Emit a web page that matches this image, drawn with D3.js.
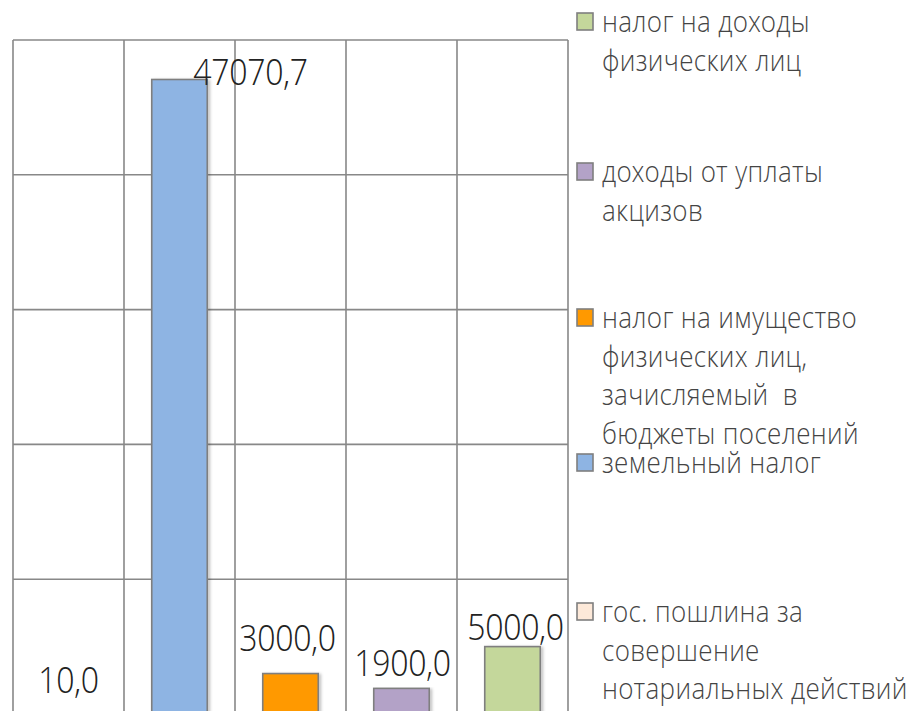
<!DOCTYPE html>
<html>
<head>
<meta charset="utf-8">
<script src="https://cdn.jsdelivr.net/npm/d3@7"></script>
<style>
  html, body { margin: 0; padding: 0; background: #fff; }
  svg { display: block; }
</style>
</head>
<body>
<svg id="chart" width="910" height="711"></svg>
<script>
// ---- data ----
const categories = [
  "гос. пошлина за совершение нотариальных действий",
  "земельный налог",
  "налог на имущество физических лиц, зачисляемый  в бюджеты поселений",
  "доходы от уплаты акцизов",
  "налог на доходы физических лиц"
];
const values = [10.0, 47070.7, 3000.0, 1900.0, 5000.0];
const valueLabels = ["10,0", "47070,7", "3000,0", "1900,0", "5000,0"];
const colors = ["#FDE9D9", "#8EB4E3", "#FF9900", "#B3A2C7", "#C4D79B"];
const yTicks = [0, 10000, 20000, 30000, 40000, 50000];
// legend (reverse order, wrapped lines as in original)
const legendLines = [
  ["налог на доходы", "физических лиц"],
  ["доходы от уплаты", "акцизов"],
  ["налог на имущество", "физических лиц,", "зачисляемый  в", "бюджеты поселений"],
  ["земельный налог"],
  ["гос. пошлина за", "совершение", "нотариальных действий"]
];
const legendColorIdx = [4, 3, 2, 1, 0];

// ---- layout ----
const svg = d3.select("#chart");
const plot = { left: 13, right: 568, top: 40, bottom: 714 };

const x = d3.scaleBand().domain(categories).range([plot.left, plot.right]).paddingInner(0).paddingOuter(0);
const y = d3.scaleLinear().domain([0, 50000]).range([plot.bottom, plot.top]);

// gridlines horizontal
svg.append("g").selectAll("line.h").data(yTicks).join("line")
  .attr("x1", plot.left).attr("x2", plot.right)
  .attr("y1", d => y(d)).attr("y2", d => y(d))
  .attr("stroke", "#888").attr("stroke-width", 1.6);

// gridlines vertical (band boundaries)
const vb = categories.map(c => x(c)).concat([plot.right]);
svg.append("g").selectAll("line.v").data(vb).join("line")
  .attr("x1", d => d).attr("x2", d => d)
  .attr("y1", plot.top).attr("y2", plot.bottom)
  .attr("stroke", "#888").attr("stroke-width", 1.6);

// shadow filter
const defs = svg.append("defs");
const f = defs.append("filter").attr("id", "sh").attr("x", "-20%").attr("y", "-5%").attr("width", "150%").attr("height", "120%");
f.append("feDropShadow").attr("dx", 2).attr("dy", 1).attr("stdDeviation", 1.5).attr("flood-color", "#000").attr("flood-opacity", 0.25);

// bars
const bw = x.bandwidth() * 0.5;
svg.append("g").selectAll("rect").data(values).join("rect")
  .attr("x", (d, i) => x(categories[i]) + (x.bandwidth() - bw) / 2)
  .attr("width", bw)
  .attr("y", d => y(d))
  .attr("height", d => y(0) - y(d))
  .attr("fill", (d, i) => colors[i])
  .attr("stroke", "#7F7F7F").attr("stroke-width", 1.6)
  .attr("filter", "url(#sh)");

// value labels (manual nudges as in the original)
const labelDx = [0, 71, -3, 1, 3];
const labelGap = [21, -6, 23, 12, 7];
svg.append("g").selectAll("text").data(values).join("text")
  .attr("transform", (d, i) => `translate(${x(categories[i]) + x.bandwidth() / 2 + labelDx[i]},${y(d) - labelGap[i]}) scale(1,1.17)`)
  .attr("text-anchor", "middle")
  .attr("font-family", "'Open Sans Light', 'Open Sans', sans-serif")
  .attr("font-weight", 300)
  .attr("font-size", 32)
  .attr("fill", "#222")
  .attr("letter-spacing", -0.3)
  .text((d, i) => valueLabels[i]);

// legend
const legendBaselines = [32, 182, 328, 473, 622];
const lineH = 38.6;
const lg = svg.append("g");
legendLines.forEach((lines, k) => {
  const b = legendBaselines[k];
  lg.append("rect")
    .attr("x", 577).attr("y", b - 19).attr("width", 16).attr("height", 17)
    .attr("fill", colors[legendColorIdx[k]])
    .attr("stroke", "#7F7F7F").attr("stroke-width", 1.6);
  lines.forEach((t, j) => {
    lg.append("text")
      .attr("transform", `translate(602,${b + j * lineH}) scale(1,1.1)`)
      .attr("font-family", "'Open Sans Light', 'Open Sans', sans-serif")
      .attr("font-weight", 300)
      .attr("font-size", 26)
      .attr("letter-spacing", 0.35)
      .attr("fill", "#444")
      .attr("xml:space", "preserve")
      .style("white-space", "pre")
      .text(t);
  });
});
</script>
</body>
</html>
